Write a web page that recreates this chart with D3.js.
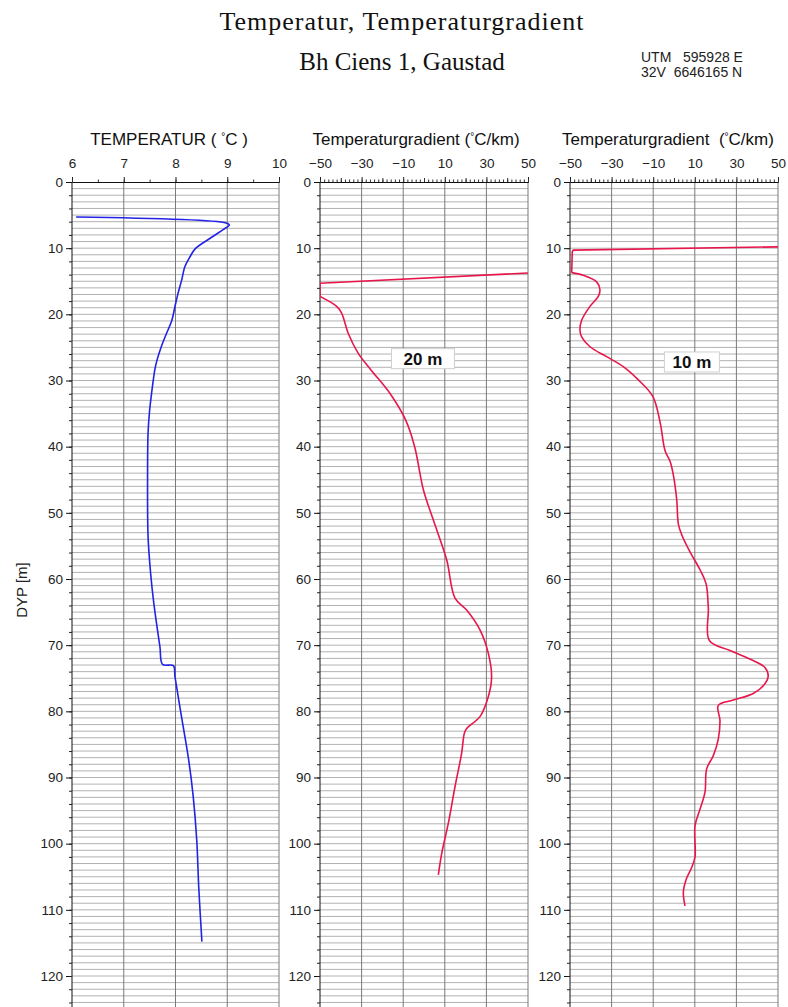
<!DOCTYPE html>
<html><head><meta charset="utf-8">
<script src="https://cdn.jsdelivr.net/npm/d3@7"></script>
<style>body{margin:0;background:#fff}svg{display:block}</style>
</head><body><svg id="c" width="788" height="1007"></svg>
<script>
// ---- data ----
const tempDepth = [5.3, 6.2, 6.5, 7.2, 8.5, 10.1, 11.3, 12.8, 14.8, 16.8, 18.8, 20.9, 23.0, 25.0, 27.0, 28.4, 31.8, 34.5, 37.9, 45.2, 53.6, 59.2, 63.6, 67.6, 70.3, 72.9, 73.1, 74.8, 81.0, 87.1, 92.7, 99.4, 106.7, 114.8];
const tempValue = [6.08, 8.98, 9.04, 8.92, 8.67, 8.38, 8.28, 8.18, 8.12, 8.05, 7.99, 7.93, 7.82, 7.72, 7.64, 7.60, 7.54, 7.50, 7.47, 7.46, 7.47, 7.52, 7.58, 7.65, 7.70, 7.75, 7.96, 7.99, 8.12, 8.25, 8.34, 8.41, 8.45, 8.51];

const grad20Depth = [13.75, 15.3, 17.3, 18.8, 19.8, 22.9, 25.9, 28.4, 31.9, 36.0, 40.0, 46.5, 51.1, 57.1, 62.9, 64.7, 67.7, 71.2, 74.8, 77.8, 80.8, 82.6, 83.3, 86.3, 91.4, 96.9, 101.5, 104.7];
const grad20Value = [50, -50, -50, -42, -39.6, -36.4, -31.6, -25.5, -16.5, -8.8, -4.5, -0.3, 4.5, 10.9, 14.9, 20.5, 26.9, 30.9, 32.5, 30.9, 26.9, 20.5, 19.4, 18.1, 14.9, 11.7, 8.5, 6.9];

const grad10Depth = [9.8, 10.3, 10.5, 13.7, 14.1, 15.1, 16.3, 17.3, 18.8, 20.9, 22.4, 23.4, 24.9, 26.4, 27.9, 29.8, 32.4, 36.3, 40.6, 42.2, 44.3, 48.0, 51.7, 53.3, 55.9, 58.6, 60.7, 64.4, 69.3, 70.8, 72.1, 73.4, 74.7, 75.8, 77.3, 78.3, 79.1, 81.4, 84.2, 86.7, 88.7, 92.2, 94.8, 97.3, 102.0, 103.6, 105.2, 107.3, 109.4];
const grad10Value = [50, -48.4, -48.9, -49.2, -43.6, -37.2, -35.6, -36.4, -40.4, -44.4, -45.2, -44.4, -40.4, -32.4, -24.4, -17.5, -10.2, -6.7, -4.3, -1.9, -0.3, 1.3, 2.1, 3.7, 7.7, 12.5, 15.4, 16.5, 17.0, 26.9, 36.5, 43.8, 45.3, 43.8, 38.1, 28.5, 21.3, 22.1, 21.3, 18.9, 15.7, 14.9, 12.5, 10.1, 10.1, 8.5, 6.1, 4.5, 5.3];

const tempTicks = [6, 7, 8, 9, 10];
const gradTicks = [-50, -30, -10, 10, 30, 50];
const depthTicks = [0, 10, 20, 30, 40, 50, 60, 70, 80, 90, 100, 110, 120];

// ---- layout ----
const svg = d3.select("#c");
const y = d3.scaleLinear().domain([0, 125]).range([182, 182 + 125 * 6.6167]);
const yTop = 182, yBot = 1007 + 5;
const font = "'Liberation Sans', Arial, sans-serif";
const serif = "'Liberation Serif', 'Times New Roman', serif";

svg.append("text").attr("x", 402).attr("y", 30).attr("text-anchor", "middle")
  .attr("font-family", serif).attr("font-size", 26).attr("letter-spacing", 1).attr("fill", "#111")
  .text("Temperatur, Temperaturgradient");
svg.append("text").attr("x", 402).attr("y", 70).attr("text-anchor", "middle")
  .attr("font-family", serif).attr("font-size", 25).attr("fill", "#111")
  .text("Bh Ciens 1, Gaustad");
svg.append("text").attr("x", 641).attr("y", 62).attr("font-family", font).attr("font-size", 14).attr("fill", "#222")
  .attr("xml:space", "preserve").text("UTM   595928 E");
svg.append("text").attr("x", 641).attr("y", 77).attr("font-family", font).attr("font-size", 14).attr("fill", "#222")
  .attr("xml:space", "preserve").text("32V  6646165 N");

svg.append("text").attr("transform", "translate(27,590) rotate(-90)").attr("text-anchor", "middle")
  .attr("font-family", font).attr("font-size", 15).attr("fill", "#222").text("DYP  [m]");

const panels = [
  { id: "p0", x: d3.scaleLinear().domain([6, 10]).range([72, 279]), ticks: tempTicks, grid: [7, 8, 9, 10],
    minor: d3.range(6, 10.01, 0.5), mid: [], titleA: "TEMPERATUR ( ", titleB: "C )", tx: 169,
    depth: tempDepth, value: tempValue, color: "#2323e8", head: 0 },
  { id: "p1", x: d3.scaleLinear().domain([-50, 50]).range([320, 528]), ticks: gradTicks, grid: [-30, -10, 10, 30, 50],
    minor: d3.range(-50, 50.01, 2), mid: d3.range(-40, 41, 20), titleA: "Temperaturgradient (", titleB: "C/km)", tx: 416,
    depth: grad20Depth, value: grad20Value, color: "#e8174b", head: 3,
    label: "20 m", lx: -0.5, ld: 26.7, lw: 63 },
  { id: "p2", x: d3.scaleLinear().domain([-50, 50]).range([570, 778]), ticks: gradTicks, grid: [-30, -10, 10, 30, 50],
    minor: d3.range(-50, 50.01, 2), mid: d3.range(-40, 41, 20), titleA: "Temperaturgradient  (", titleB: "C/km)", tx: 668,
    depth: grad10Depth, value: grad10Value, color: "#e8174b", head: 4,
    label: "10 m", lx: 8.6, ld: 27.2, lw: 55 }
];

const defs = svg.append("defs");

panels.forEach(p => {
  const [x0, x1] = p.x.range();
  const g = svg.append("g");
  defs.append("clipPath").attr("id", "clip-" + p.id).append("rect")
    .attr("x", x0).attr("y", yTop).attr("width", x1 - x0).attr("height", yBot - yTop);

  // horizontal grid every metre
  g.append("g").selectAll("line").data(d3.range(1, 126)).join("line")
    .attr("x1", x0).attr("x2", x1).attr("y1", d => y(d)).attr("y2", d => y(d))
    .attr("stroke", "#a9a9a9").attr("stroke-width", 0.9);
  // vertical grid
  g.append("g").selectAll("line").data(p.grid).join("line")
    .attr("x1", d => p.x(d)).attr("x2", d => p.x(d)).attr("y1", yTop).attr("y2", yBot)
    .attr("stroke", "#7a7a7a").attr("stroke-width", 1);

  // top axis: labels + ticks
  const top = g.append("g").attr("transform", `translate(0,${yTop})`)
    .call(d3.axisTop(p.x).tickValues(p.ticks).tickSize(5).tickPadding(9).tickFormat(d3.format("d")));
  top.select(".domain").attr("stroke", "#111");
  top.selectAll(".tick line").attr("stroke", "#222");
  top.selectAll("text").attr("font-family", font).attr("font-size", 13.5).attr("fill", "#222");
  g.append("g").attr("transform", `translate(0,${yTop})`)
    .call(d3.axisTop(p.x).tickValues(p.minor).tickSize(2.5).tickFormat(""))
    .call(a => a.select(".domain").remove())
    .selectAll("line").attr("stroke", "#333");
  if (p.mid.length) g.append("g").attr("transform", `translate(0,${yTop})`)
    .call(d3.axisTop(p.x).tickValues(p.mid).tickSize(4).tickFormat(""))
    .call(a => a.select(".domain").remove())
    .selectAll("line").attr("stroke", "#333");

  // left axis
  const left = g.append("g").attr("transform", `translate(${x0},0)`)
    .call(d3.axisLeft(y).tickValues(depthTicks).tickSize(6).tickPadding(3).tickFormat(d3.format("d")));
  left.select(".domain").attr("d", `M0,${yTop}V${yBot}`).attr("stroke", "#111");
  left.selectAll(".tick line").attr("stroke", "#111");
  left.selectAll("text").attr("font-family", font).attr("font-size", 13.5).attr("fill", "#222");
  g.append("g").attr("transform", `translate(${x0},0)`)
    .call(d3.axisLeft(y).tickValues(d3.range(2, 125, 2)).tickSize(3).tickFormat(""))
    .call(a => a.select(".domain").remove())
    .selectAll("line").attr("stroke", "#222");

  // title
  const t = g.append("text").attr("x", p.tx).attr("y", 145).attr("text-anchor", "middle")
    .attr("font-family", font).attr("font-size", 17).attr("fill", "#111").attr("xml:space", "preserve");
  t.append("tspan").text(p.titleA);
  t.append("tspan").attr("font-size", 10).attr("dy", -5).text("°");
  t.append("tspan").attr("dy", 5).text(p.titleB);

  // curve
  const pts = p.depth.map((d, i) => [p.value[i], d]);
  const cg = g.append("g").attr("clip-path", `url(#clip-${p.id})`);
  const lin = d3.line().x(d => p.x(d[0])).y(d => y(d[1]));
  const smooth = d3.line().x(d => p.x(d[0])).y(d => y(d[1])).curve(d3.curveCatmullRom.alpha(0.5));
  if (p.head > 0) {
    cg.append("path").datum(pts.slice(0, p.head)).attr("d", lin)
      .attr("fill", "none").attr("stroke", p.color).attr("stroke-width", 1.6);
    cg.append("path").datum(pts.slice(p.head - 1)).attr("d", smooth)
      .attr("fill", "none").attr("stroke", p.color).attr("stroke-width", 1.6);
  } else {
    cg.append("path").datum(pts).attr("d", smooth)
      .attr("fill", "none").attr("stroke", p.color).attr("stroke-width", 1.6);
  }

  if (p.label) {
    const cx = p.x(p.lx), cy = y(p.ld);
    g.append("rect").attr("x", cx - p.lw / 2).attr("y", cy - 10).attr("width", p.lw).attr("height", 20)
      .attr("fill", "#fff").attr("stroke", "#d0d0d0").attr("stroke-width", 1);
    g.append("text").attr("x", cx).attr("y", cy + 6).attr("text-anchor", "middle")
      .attr("font-family", font).attr("font-weight", "bold").attr("font-size", 17).attr("fill", "#111")
      .text(p.label);
  }
});
</script></body></html>
